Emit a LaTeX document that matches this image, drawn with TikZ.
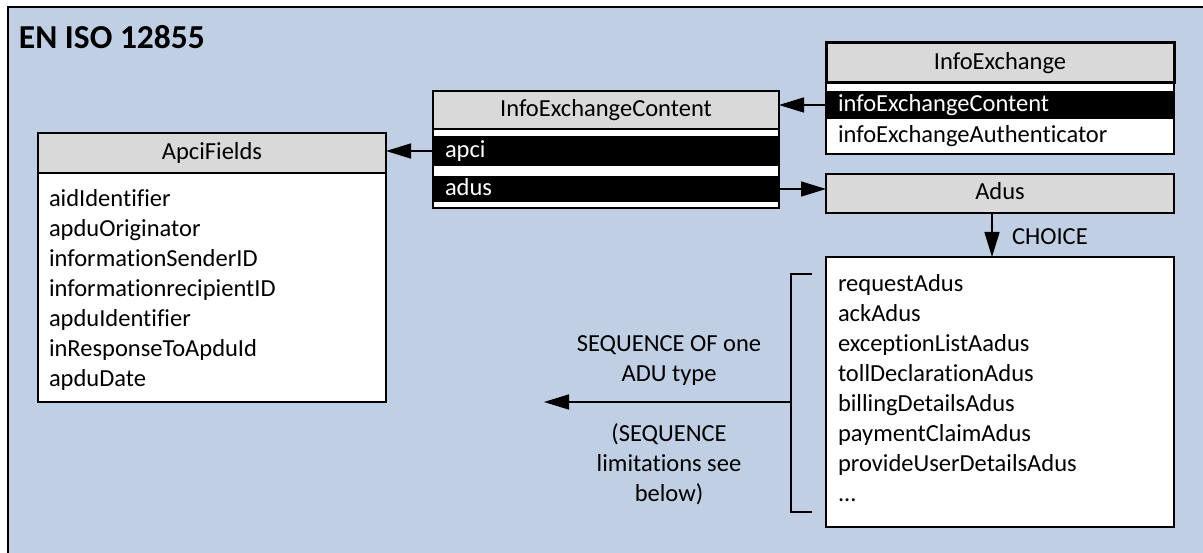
\documentclass[tikz,border=0pt]{standalone}
\usepackage{fontspec}
\setmainfont{Carlito}[Ligatures=NoCommon]
\usetikzlibrary{arrows.meta,calc}
\definecolor{bgblue}{RGB}{192,207,227}
\definecolor{hdrgray}{RGB}{217,217,217}
\newcommand{\fl}{\rule{0pt}{19pt}}
\begin{document}
\begin{tikzpicture}[x=1pt,y=-1pt,
  every node/.style={inner sep=0pt, outer sep=0pt, font=\fontsize{24.5}{30}\selectfont},
  hdr/.style={draw=black, line width=1.6pt, fill=hdrgray, anchor=north west, text height=17pt, text depth=4.5pt},
  body/.style={draw=black, line width=1.6pt, fill=white, anchor=north west},
  blackrow/.style={fill=black, text=white, anchor=north west, inner xsep=12pt, align=left, text height=17pt, text depth=4.5pt},
  whiterow/.style={anchor=north west, inner xsep=12pt, align=left, text height=17pt, text depth=4.5pt},
  listtxt/.style={anchor=north west, align=left},
  arr/.style={line width=1.6pt, -{Triangle[length=25pt, width=15pt]}},
  plain/.style={line width=1.6pt}
]
\useasboundingbox (0,0) rectangle (1203,553);
\clip (0,0) rectangle (1203,553);
% frame
\draw[plain, fill=bgblue] (8,7) rectangle (1225,575);
\node[font=\fontsize{33.5}{40}\selectfont\bfseries, anchor=base west] (title) at (19,49) {EN ISO 12855};

% ApciFields
\node[body, minimum width=348pt, minimum height=229pt] (apciL) at (38,173) {};
\node[hdr, minimum width=348pt, minimum height=40pt] (apciH) at (38,133) {ApciFields};
\node[listtxt] (apciT) at (49,188) {\fl aidIdentifier\\apduOriginator\\informationSenderID\\informationrecipientID\\apduIdentifier\\inResponseToApduId\\apduDate};

% InfoExchangeContent
\node[body, minimum width=346pt, minimum height=117pt] (iec) at (433,91) {};
\node[hdr, minimum width=346pt, minimum height=38pt] (iecH) at (433,91) {InfoExchangeContent};
\node[blackrow, text width=322pt, minimum height=30pt] (iecApci) at (433,136) {apci};
\node[blackrow, text width=322pt, minimum height=26pt] (iecAdus) at (433,176) {adus};

% InfoExchange
\node[body, minimum width=348pt, minimum height=111pt] (ie) at (826,43) {};
\node[hdr, line width=3pt, minimum width=348pt, minimum height=40pt] (ieH) at (826,43) {InfoExchange};
\node[blackrow, text width=324pt, minimum height=28pt] (ieC) at (826,91) {infoExchangeContent};
\node[whiterow, text width=324pt, minimum height=35pt] (ieA) at (826,119) {infoExchangeAuthenticator};

% Adus
\node[hdr, minimum width=348pt, minimum height=39pt] (adus) at (826,174) {Adus};
\node[body, minimum width=348pt, minimum height=270pt] (adusL) at (826,257) {};
\node[listtxt] (adusT) at (838,272) {\fl requestAdus\\ackAdus\\exceptionListAadus\\tollDeclarationAdus\\billingDetailsAdus\\paymentClaimAdus\\provideUserDetailsAdus\\...};

% connectors
\draw[arr] (ieC.west) -- (ieC.west -| iec.east);
\draw[arr] (iecApci.west) -- (iecApci.west -| apciH.east);
\draw[arr] (iecAdus.east) -- (iecAdus.east -| adus.west);
\draw[arr] ([xshift=-8pt]adus.south) -- ([xshift=-8pt]adusL.north);
\node[anchor=west] (choice) at (1012,237) {CHOICE};

% bracket and sequence arrow
\coordinate (brT) at (812,274);
\coordinate (brB) at (812,512);
\coordinate (brM) at (791,402);
\coordinate (seqEnd) at (544,402);
\draw[plain] (brT) -| (brM) |- (brB);
\draw[arr] (brM) -- (seqEnd);
\node[align=center, anchor=north] (seqLbl) at (669,332.5) {\fl SEQUENCE OF one\\ADU type};
\node[align=center, anchor=north] (limLbl) at (669,422.5) {\fl (SEQUENCE\\limitations see\\below)};
\end{tikzpicture}
\end{document}
